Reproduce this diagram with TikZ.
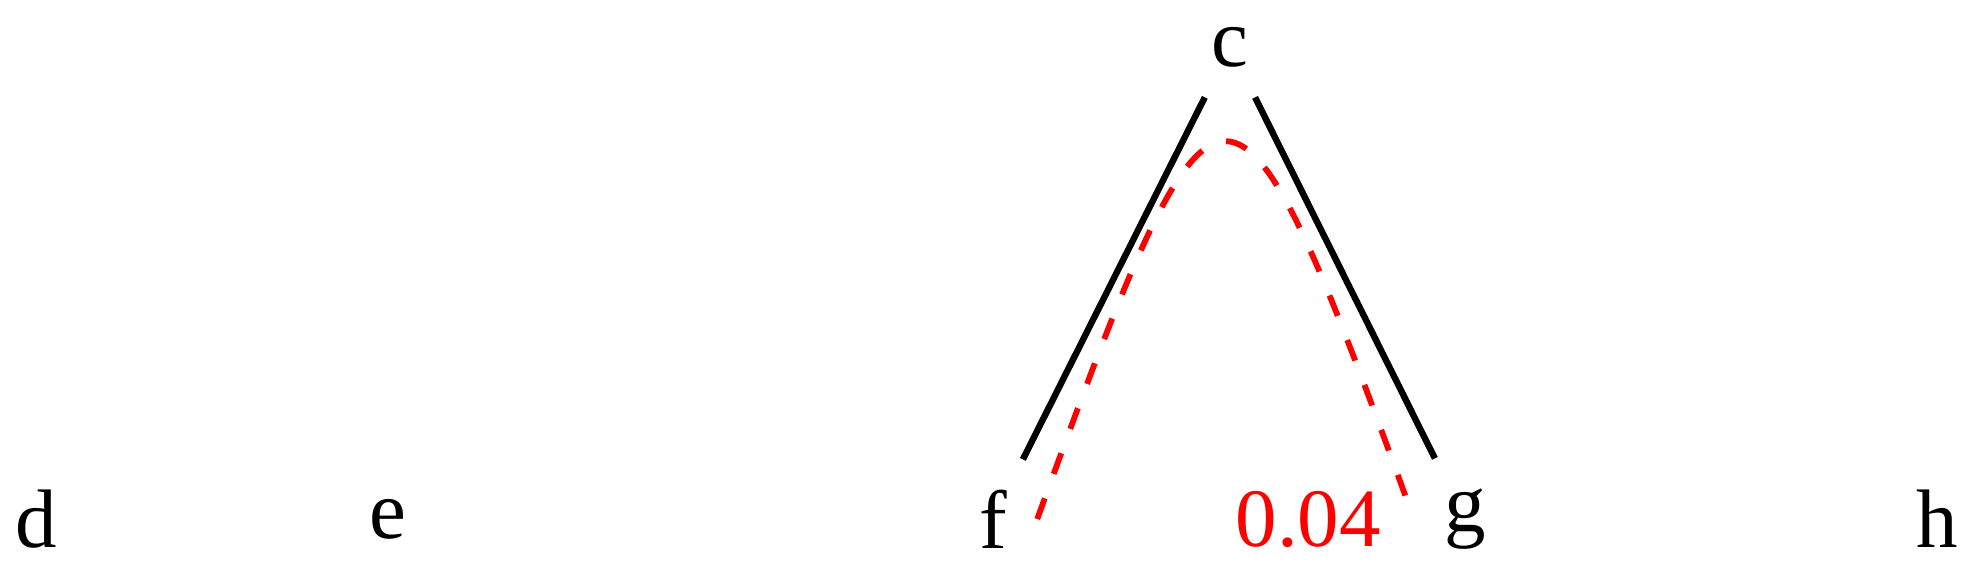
\documentclass[tikz,border=0pt]{standalone}
\usepackage{fontspec}
\setmainfont{Liberation Serif}

\tikzset{
  vert/.style={inner sep=15pt, font=\fontsize{41.5}{50}\selectfont},
  tree/.style={line width=3.2pt},
  flow/.style={red, line width=2.9pt, dash pattern=on 11pt off 13pt},
  wt/.style={red, inner sep=15pt, font=\fontsize{41.5}{50}\selectfont}
}

\begin{document}
\begin{tikzpicture}[x=0.5pt,y=-0.5pt]
\useasboundingbox (0,0) rectangle (1987,579);
\node[vert] (c) at (1230,47) {c};
\node[vert] (d) at (36,519) {d};
\node[vert] (e) at (388,519) {e};
\node[vert] (f) at (993,519) {f};
\node[vert] (g) at (1465,519) {g};
\node[vert] (h) at (1937,519) {h};
\draw[tree] (c) -- (f);
\draw[tree] (c) -- (g);
\draw[flow] (f.east) to[out=70,in=110,looseness=3.65] node[wt,at end,left] (w) {0.04} (g.west);
\end{tikzpicture}
\end{document}
